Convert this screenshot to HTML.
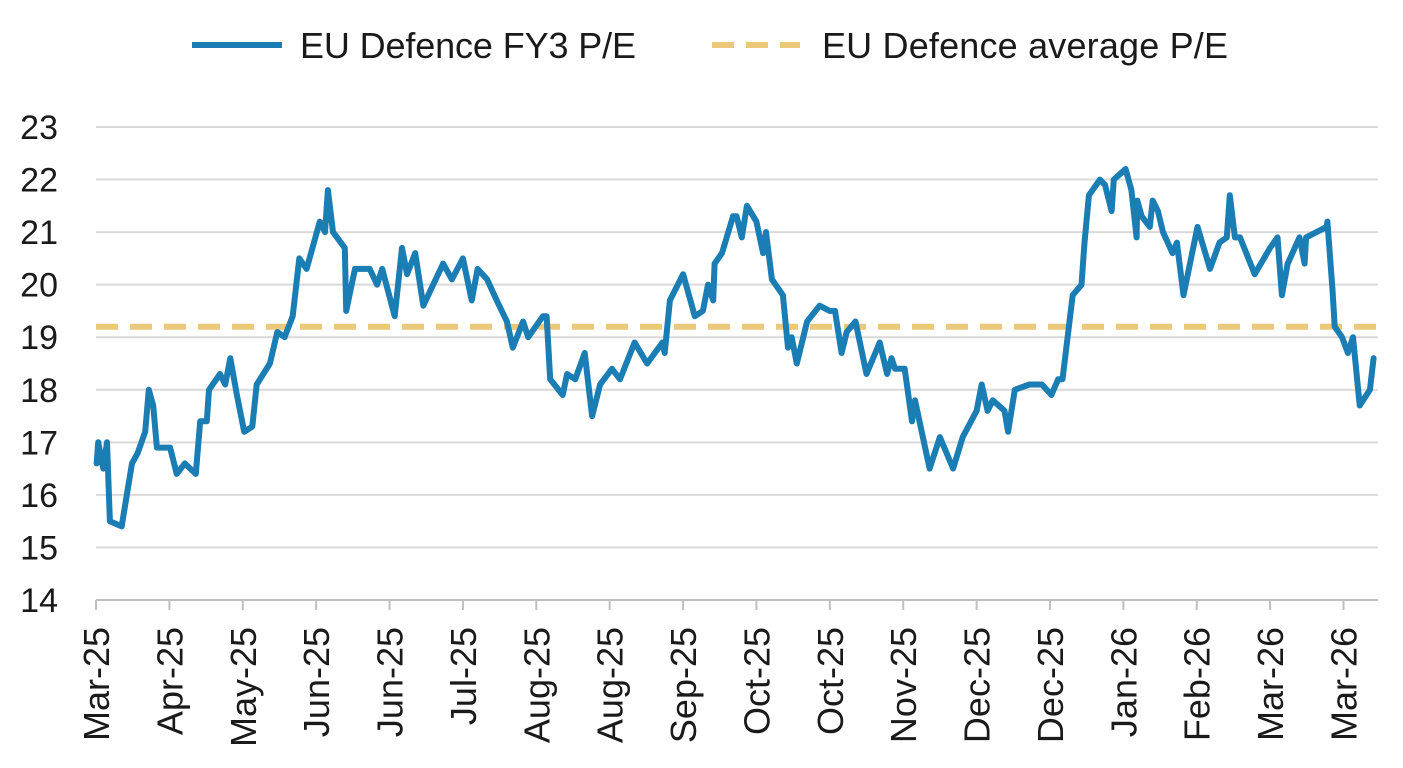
<!DOCTYPE html>
<html><head><meta charset="utf-8"><style>
body{margin:0;background:#fff;}
svg text{font-family:"Liberation Sans",sans-serif;fill:#1a1a1a;}
</style></head><body>
<svg id="chart" width="1403" height="763" viewBox="0 0 1403 763">
<g>
<line x1="192" y1="45" x2="282" y2="45" stroke="#1a7db3" stroke-width="6"/>
<text x="300" y="58" font-size="36" textLength="336">EU Defence FY3 P/E</text>
<line x1="712" y1="45" x2="800" y2="45" stroke="#ecc978" stroke-width="6" stroke-dasharray="22,12"/>
<text x="822" y="58" font-size="36" textLength="406">EU Defence average P/E</text>
</g>
<g id="grid"></g><g id="axes"></g><g id="series"></g>
</svg>
<script>
const yTicks=[14,15,16,17,18,19,20,21,22,23];
const xLabels=["Mar-25","Apr-25","May-25","Jun-25","Jun-25","Jul-25","Aug-25","Aug-25","Sep-25","Oct-25","Oct-25","Nov-25","Dec-25","Dec-25","Jan-26","Feb-26","Mar-26","Mar-26"];
const avgPE=19.2;
const tMonths=[0.01,0.03,0.10,0.15,0.19,0.35,0.42,0.49,0.57,0.67,0.72,0.78,0.83,1.01,1.10,1.21,1.36,1.42,1.51,1.54,1.69,1.76,1.83,1.92,2.02,2.13,2.19,2.37,2.47,2.57,2.68,2.77,2.87,3.05,3.12,3.16,3.23,3.39,3.41,3.53,3.73,3.83,3.90,4.07,4.17,4.24,4.35,4.46,4.73,4.85,5.00,5.12,5.20,5.33,5.46,5.60,5.68,5.82,5.89,6.09,6.14,6.19,6.36,6.42,6.53,6.66,6.76,6.87,7.03,7.14,7.34,7.51,7.72,7.75,7.82,8.00,8.16,8.27,8.34,8.41,8.43,8.53,8.68,8.73,8.80,8.87,9.00,9.09,9.13,9.21,9.36,9.43,9.48,9.55,9.69,9.86,10.00,10.07,10.16,10.23,10.35,10.50,10.68,10.78,10.84,10.89,11.02,11.12,11.16,11.36,11.50,11.68,11.81,12.00,12.07,12.15,12.22,12.38,12.43,12.52,12.72,12.89,13.02,13.11,13.17,13.31,13.43,13.47,13.53,13.68,13.75,13.84,13.87,14.03,14.11,14.18,14.19,14.25,14.36,14.40,14.47,14.54,14.67,14.73,14.82,15.01,15.18,15.31,15.41,15.45,15.52,15.59,15.79,16.00,16.10,16.16,16.24,16.40,16.47,16.49,16.77,16.78,16.85,16.88,16.98,17.06,17.13,17.22,17.36,17.41];
const peValues=[16.6,17.0,16.5,17.0,15.5,15.4,16.0,16.6,16.8,17.2,18.0,17.7,16.9,16.9,16.4,16.6,16.4,17.4,17.4,18.0,18.3,18.1,18.6,17.9,17.2,17.3,18.1,18.5,19.1,19.0,19.4,20.5,20.3,21.2,21.0,21.8,21.0,20.7,19.5,20.3,20.3,20.0,20.3,19.4,20.7,20.2,20.6,19.6,20.4,20.1,20.5,19.7,20.3,20.1,19.7,19.3,18.8,19.3,19.0,19.4,19.4,18.2,17.9,18.3,18.2,18.7,17.5,18.1,18.4,18.2,18.9,18.5,18.9,18.7,19.7,20.2,19.4,19.5,20.0,19.7,20.4,20.6,21.3,21.3,20.9,21.5,21.2,20.6,21.0,20.1,19.8,18.8,19.0,18.5,19.3,19.6,19.5,19.5,18.7,19.1,19.3,18.3,18.9,18.3,18.6,18.4,18.4,17.4,17.8,16.5,17.1,16.5,17.1,17.6,18.1,17.6,17.8,17.6,17.2,18.0,18.1,18.1,17.9,18.2,18.2,19.8,20.0,20.8,21.7,22.0,21.9,21.4,22.0,22.2,21.8,20.9,21.6,21.3,21.1,21.6,21.4,21.0,20.6,20.8,19.8,21.1,20.3,20.8,20.9,21.7,20.9,20.9,20.2,20.7,20.9,19.8,20.4,20.9,20.4,20.9,21.1,21.2,19.9,19.2,19.0,18.7,19.0,17.7,18.0,18.6];
const NS="http://www.w3.org/2000/svg";
const X0=96,X1=1378,Y0=600,Y1=127,TMAX=17.47;
function xScale(t){return X0+(X1-X0)*t/TMAX;}
function yScale(v){return Y0-(Y0-Y1)*(v-14)/9;}
function mk(tag,attrs,parent){const e=document.createElementNS(NS,tag);for(const k in attrs)e.setAttribute(k,attrs[k]);document.getElementById(parent).appendChild(e);return e;}
yTicks.forEach(v=>{
  if(v>14){const g=mk('line',{x1:X0,x2:X1,y1:yScale(v),y2:yScale(v),stroke:'#d9d9d9','stroke-width':2},'grid');
  
  }
  const t=mk('text',{x:58,y:yScale(v)+12,'text-anchor':'end','font-size':34},'axes');
  t.textContent=v;
  
  
});
const ax=mk('line',{x1:X0,x2:X1,y1:Y0,y2:Y0,stroke:'#bfbfbf','stroke-width':2},'axes');


xLabels.forEach((lab,i)=>{
  const x=xScale(i);
  const tk=mk('line',{x1:x,x2:x,y1:Y0,y2:Y0+10,stroke:'#bfbfbf','stroke-width':2},'axes');
  
  
  const t=mk('text',{x:0,y:0,'text-anchor':'end','font-size':36,transform:`translate(${x+13},${Y0+27}) rotate(-90)`},'axes');
  t.textContent=lab;
  
  
});
const avg=mk('line',{x1:X0,x2:X1,y1:yScale(avgPE),y2:yScale(avgPE),stroke:'#ecc978','stroke-width':6,'stroke-dasharray':'22,12'},'series');


const d=tMonths.map((t,i)=>(i?'L':'M')+xScale(t).toFixed(1)+','+yScale(peValues[i]).toFixed(1)).join('');
const p=mk('path',{d:d,fill:'none',stroke:'#1a7db3','stroke-width':6,'stroke-linejoin':'round','stroke-linecap':'round'},'series');


</script>
</body></html>
